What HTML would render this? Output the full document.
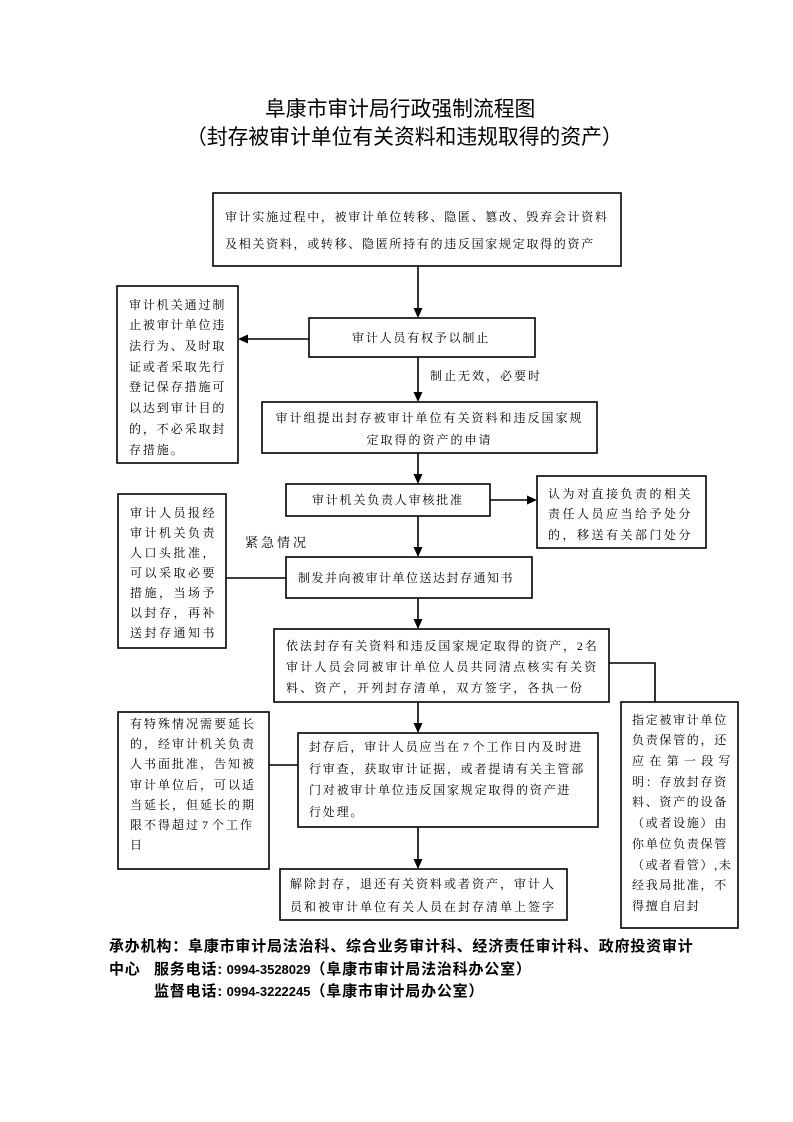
<!DOCTYPE html>
<html>
<head>
<meta charset="utf-8">
<style>
  html,body{margin:0;padding:0;background:#fff;}
  body{width:793px;height:1122px;position:relative;overflow:hidden;}
  svg{position:absolute;left:0;top:0;}
  .t{position:absolute;white-space:nowrap;color:#000;
     font-family:"Liberation Serif","Noto Serif CJK SC",serif;font-size:12px;}
  .h{position:absolute;white-space:nowrap;color:#000;
     font-family:"Liberation Sans","Noto Sans CJK SC",sans-serif;font-size:20.8px;line-height:28px;}
  .f{position:absolute;white-space:nowrap;color:#000;font-weight:bold;
     font-family:"Liberation Sans","Noto Sans CJK SC",sans-serif;font-size:15px;line-height:22px;letter-spacing:0.8px;}
  .d{font-size:13px;letter-spacing:0;}
  .n{padding:0 2px;}
</style>
</head>
<body>
<svg width="793" height="1122" viewBox="0 0 793 1122">
  <g fill="none" stroke="#000" stroke-width="1.6">
    <rect x="213" y="193" width="408" height="73"/>
    <rect x="117" y="286" width="121" height="177"/>
    <rect x="309" y="318" width="226" height="39"/>
    <rect x="262" y="402" width="335" height="51"/>
    <rect x="286" y="484" width="204" height="32"/>
    <rect x="537" y="476" width="169" height="72"/>
    <rect x="286" y="557" width="246" height="41"/>
    <rect x="118" y="494" width="108" height="154"/>
    <rect x="274" y="629" width="335" height="73"/>
    <rect x="621" y="702" width="117" height="226"/>
    <rect x="298" y="733" width="300" height="94"/>
    <rect x="118" y="712" width="151" height="157"/>
    <rect x="280" y="869" width="287" height="51"/>
    <line x1="418" y1="266" x2="418" y2="309"/>
    <line x1="418" y1="357" x2="418" y2="393"/>
    <line x1="418" y1="453" x2="418" y2="475"/>
    <line x1="418" y1="516" x2="418" y2="548"/>
    <line x1="418" y1="598" x2="418" y2="620"/>
    <line x1="418" y1="702" x2="418" y2="724"/>
    <line x1="418" y1="827" x2="418" y2="860"/>
    <line x1="309" y1="339" x2="247" y2="339"/>
    <line x1="490" y1="500" x2="528" y2="500"/>
    <line x1="226" y1="578" x2="286" y2="578"/>
    <line x1="269" y1="765" x2="298" y2="765"/>
    <polyline points="609,663 655,663 655,702"/>
  </g>
  <g fill="#000" stroke="none">
    <polygon points="413.5,308 422.5,308 418,318"/>
    <polygon points="413.5,392 422.5,392 418,402"/>
    <polygon points="413.5,474 422.5,474 418,484"/>
    <polygon points="413.5,547 422.5,547 418,557"/>
    <polygon points="413.5,619 422.5,619 418,629"/>
    <polygon points="413.5,723 422.5,723 418,733"/>
    <polygon points="413.5,859 422.5,859 418,869"/>
    <polygon points="238,339 248,334.5 248,343.5"/>
    <polygon points="537,500 527,495.5 527,504.5"/>
  </g>
</svg>

<div class="h" style="left:265px;top:96px;">阜康市审计局行政强制流程图</div>
<div class="h" style="left:186px;top:124px;">（封存被审计单位有关资料和违规取得的资产）</div>

<div class="t" style="left:225px;top:204px;line-height:27px;letter-spacing:1.7px;">审计实施过程中，被审计单位转移、隐匿、篡改、毁弃会计资料<br>及相关资料，或转移、隐匿所持有的违反国家规定取得的资产</div>

<div class="t" style="left:129px;top:294.6px;line-height:20.7px;letter-spacing:1.9px;">审计机关通过制<br>止被审计单位违<br>法行为、及时取<br>证或者采取先行<br>登记保存措施可<br>以达到审计目的<br>的，不必采取封<br>存措施。</div>

<div class="t" style="left:352px;top:328px;line-height:20px;letter-spacing:1.8px;">审计人员有权予以制止</div>

<div class="t" style="left:430px;top:366px;line-height:20px;letter-spacing:2px;">制止无效，必要时</div>

<div class="t" style="left:262px;width:335px;text-align:center;top:407px;line-height:22px;letter-spacing:2px;">审计组提出封存被审计单位有关资料和违反国家规<br>定取得的资产的申请</div>

<div class="t" style="left:312px;top:490px;line-height:20px;letter-spacing:1.8px;">审计机关负责人审核批准</div>

<div class="t" style="left:548px;top:483.7px;line-height:20.5px;letter-spacing:2.5px;">认为对直接负责的相关<br>责任人员应当给予处分<br>的，移送有关部门处分</div>

<div class="t" style="left:245px;top:533px;line-height:20px;font-size:13px;letter-spacing:3px;">紧急情况</div>

<div class="t" style="left:298px;top:567.5px;line-height:20px;letter-spacing:1.5px;">制发并向被审计单位送达封存通知书</div>

<div class="t" style="left:130px;top:503px;line-height:20px;letter-spacing:2.5px;">审计人员报经<br>审计机关负责<br>人口头批准，<br>可以采取必要<br>措施，当场予<br>以封存，再补<br>送封存通知书</div>

<div class="t" style="left:286px;top:635.5px;line-height:21px;letter-spacing:2.2px;"><span style="letter-spacing:1.85px;">依法封存有关资料和违反国家规定取得的资产，2名</span><br>审计人员会同被审计单位人员共同清点核实有关资<br>料、资产，开列封存清单，双方签字，各执一份</div>

<div class="t" style="left:632px;top:709.6px;line-height:20.7px;letter-spacing:1.7px;">指定被审计单位<br>负责保管的，还<br><span style="letter-spacing:5.3px;">应在第一段写</span><br>明：存放封存资<br>料、资产的设备<br>（或者设施）由<br>你单位负责保管<br>（或者看管）,未<br>经我局批准，不<br>得擅自启封</div>

<div class="t" style="left:309px;top:737px;line-height:21.7px;letter-spacing:1.8px;">封存后，审计人员应当在<span class="n">7</span>个工作日内及时进<br>行审查，获取审计证据，或者提请有关主管部<br>门对被审计单位违反国家规定取得的资产进<br>行处理。</div>

<div class="t" style="left:130px;top:714px;line-height:20.2px;letter-spacing:2px;">有特殊情况需要延长<br>的，经审计机关负责<br>人书面批准，告知被<br>审计单位后，可以适<br>当延长，但延长的期<br>限不得超过<span class="n">7</span>个工作<br>日</div>

<div class="t" style="left:290px;top:872.5px;line-height:23px;letter-spacing:2px;">解除封存，退还有关资料或者资产，审计人<br>员和被审计单位有关人员在封存清单上签字</div>

<div class="f" style="left:109px;top:936px;">承办机构：阜康市审计局法治科、综合业务审计科、经济责任审计科、政府投资审计</div>
<div class="f" style="left:109px;top:959px;">中心</div>
<div class="f" style="left:154px;top:959px;">服务电话:<span class="d"> 0994-3528029</span>（阜康市审计局法治科办公室）</div>
<div class="f" style="left:154px;top:981px;">监督电话:<span class="d"> 0994-3222245</span>（阜康市审计局办公室）</div>
</body>
</html>
